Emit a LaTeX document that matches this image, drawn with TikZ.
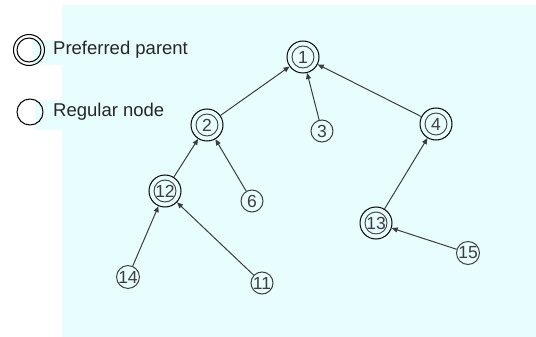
\documentclass[tikz,border=0pt]{standalone}
\usepackage{fontspec}
\setmainfont{Liberation Sans}
\usetikzlibrary{arrows.meta}
\definecolor{bgc}{RGB}{232,254,254}
\definecolor{ink}{RGB}{60,60,66}
\tikzset{
  x=1pt, y=-1pt,
  reg/.style={circle, draw=ink, line width=1pt, minimum size=22pt, inner sep=0pt,
    text=ink, font=\fontsize{17.5}{17.5}\selectfont},
  pref/.style={circle, draw=black, line width=1pt, minimum size=32pt, inner sep=0pt,
    text=ink, font=\fontsize{17.5}{17.5}\selectfont,
    path picture={\draw[ink, line width=0.9pt] (path picture bounding box.center) circle (11pt);}},
  edge/.style={draw=ink, line width=1pt, -{Triangle[length=6pt,width=5pt]}},
  legtext/.style={anchor=west, inner sep=0pt, font=\fontsize{18.5}{18.5}\selectfont, text=black!85}
}
\begin{document}
\begin{tikzpicture}
\useasboundingbox (0,0) rectangle (536,337);
\fill[bgc] (62,5) rectangle (536,337);
\fill[bgc] (33,40) rectangle (62,65);
\fill[bgc] (35,100) rectangle (62,130);
% legend
\node[circle, draw=black, line width=1pt, minimum size=31pt, inner sep=0pt] (lp) at (29,50) {};
\draw[black, line width=1pt] (lp.center) circle (12pt);
\node[legtext] (lpt) at (53,50) {Preferred parent};
\node[circle, draw=black, line width=1pt, minimum size=26pt, inner sep=0pt] (lr) at (30,112) {};
\node[legtext] (lrt) at (53,112) {Regular node};
% nodes
\node[pref] (n1) at (303,57) {1};
\node[pref] (n2) at (207,125) {2};
\node[pref] (n4) at (436,124) {4};
\node[pref] (n12) at (165,191) {12};
\node[pref] (n13) at (376,223) {13};
\node[reg] (n3) at (322,131) {3};
\node[reg] (n6) at (252,201) {6};
\node[reg] (n14) at (128,277) {14};
\node[reg] (n11) at (262,283) {11};
\node[reg] (n15) at (468,253) {15};
% edges
\path[edge] (n2) -- (n1);
\path[edge] (n3) -- (n1);
\path[edge] (n4) -- (n1);
\path[edge] (n12) -- (n2);
\path[edge] (n6) -- (n2);
\path[edge] (n14) -- (n12);
\path[edge] (n11) -- (n12);
\path[edge] (n13) -- (n4);
\path[edge] (n15) -- (n13);
\end{tikzpicture}
\end{document}
